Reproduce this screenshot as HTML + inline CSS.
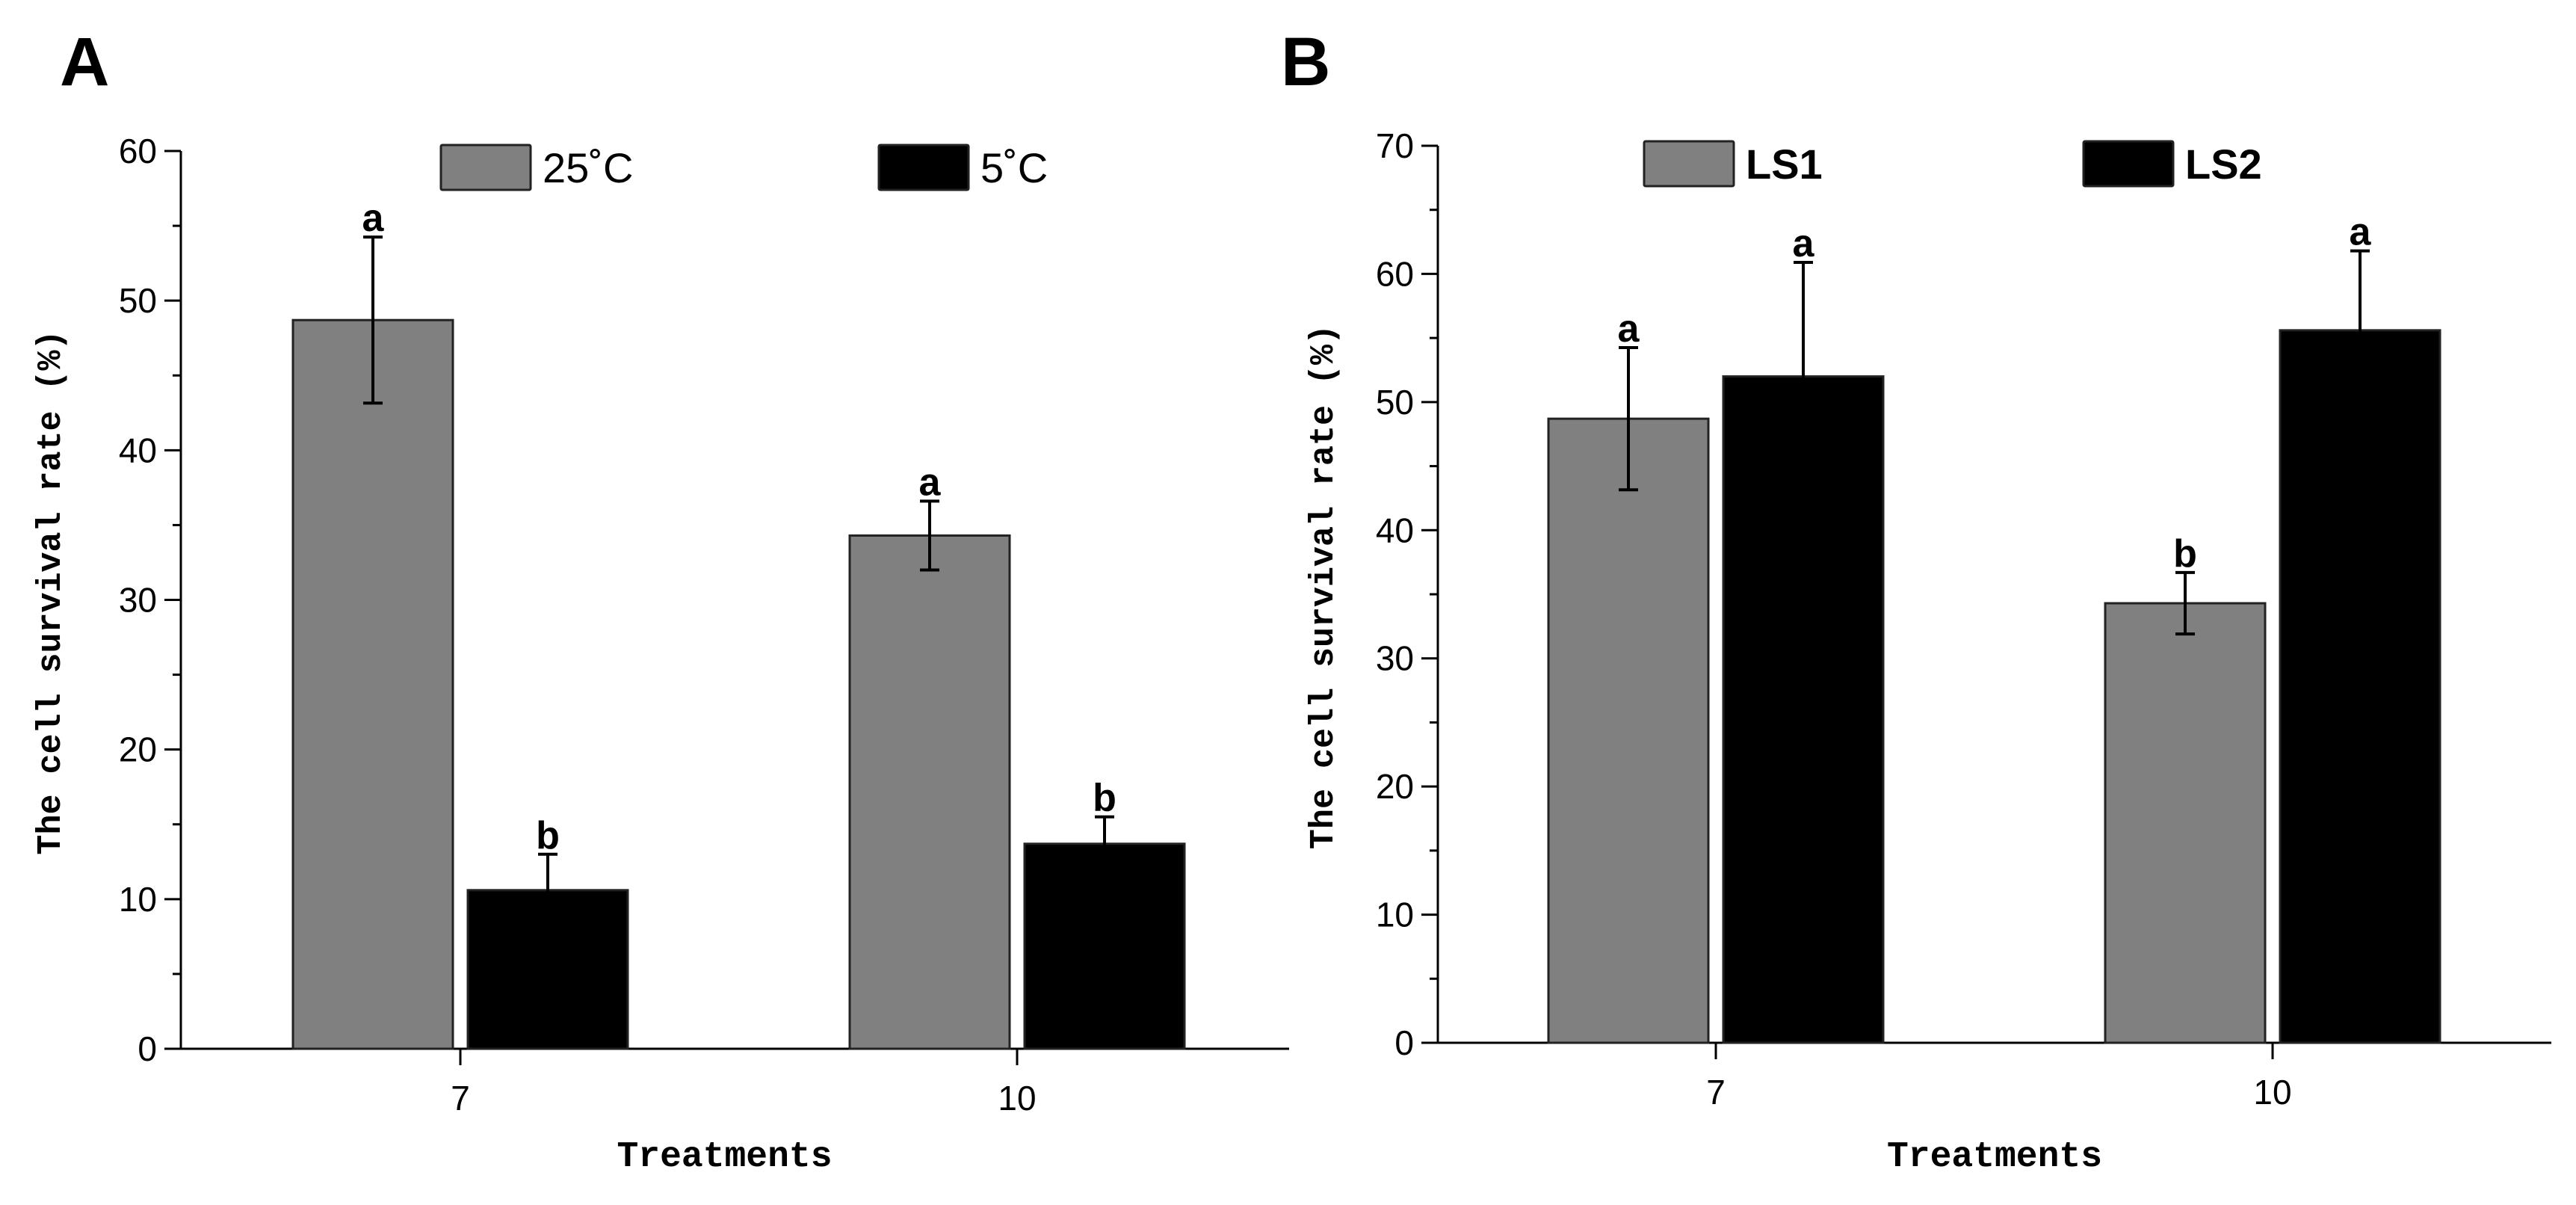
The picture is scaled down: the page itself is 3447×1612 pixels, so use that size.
<!DOCTYPE html>
<html><head><meta charset="utf-8"><style>
html,body{margin:0;padding:0;background:#fff;}
svg{display:block;}
text{font-family:"Liberation Sans",sans-serif;fill:#000;}
.mono{font-family:"Liberation Mono",monospace;font-weight:bold;}
</style></head><body>
<svg id="chart" width="3447" height="1612" viewBox="0 0 3447 1612" xmlns="http://www.w3.org/2000/svg"></svg>
<script>
const categories = ["7", "10"];
const seriesA1 = [48.7, 34.3];
const seriesA1Err = [5.55, 2.3];
const seriesA2 = [10.6, 13.7];
const seriesA2Err = [2.4, 1.8];
const lettersA1 = ["a", "a"];
const lettersA2 = ["b", "b"];
const ticksA = [0, 10, 20, 30, 40, 50, 60];
const seriesB1 = [48.7, 34.3];
const seriesB1Err = [5.55, 2.4];
const seriesB2 = [52.0, 55.6];
const seriesB2Err = [8.9, 6.2];
const lettersB1 = ["a", "b"];
const lettersB2 = ["a", "a"];
const ticksB = [0, 10, 20, 30, 40, 50, 60, 70];
const legendA = ["25˚C", "5˚C"];
const legendB = ["LS1", "LS2"];

const NS = "http://www.w3.org/2000/svg";
const svg = document.getElementById("chart");
function mk(tag, attrs, parent, txt) {
  const e = document.createElementNS(NS, tag);
  for (const k in attrs) e.setAttribute(k, attrs[k]);
  if (txt !== undefined) e.textContent = txt;
  (parent || svg).appendChild(e);
  return e;
}

function panel(cfg) {
  const g = mk("g", {});
  
  
  const yScale = v => cfg.y0 - (v / cfg.max) * (cfg.y0 - cfg.yTop);
  const groupX = i => cfg.groupCenters[i];
  const pl = mk("text", {x: cfg.labelX, y: 114, "font-size": 92, "font-weight": "bold"}, g, cfg.letter);
  
  
  const ya = mk("line", {x1: cfg.x0, y1: cfg.yTop, x2: cfg.x0, y2: cfg.y0, stroke: "#000", "stroke-width": 3}, g);
  
  
  const xa = mk("line", {x1: cfg.x0 - 22, y1: cfg.y0, x2: cfg.x1, y2: cfg.y0, stroke: "#000", "stroke-width": 3}, g);
  
  
  cfg.ticks.forEach((t, i) => {
    const y = yScale(t);
    mk("line", {x1: cfg.x0 - 22, y1: y, x2: cfg.x0, y2: y, stroke: "#000", "stroke-width": 3}, g);
    const tl = mk("text", {x: cfg.x0 - 32, y: y + 16, "font-size": 46, "text-anchor": "end"}, g, String(t));
    
    
    if (i < cfg.ticks.length - 1) {
      const ym = yScale(t + (cfg.ticks[1] - cfg.ticks[0]) / 2);
      mk("line", {x1: cfg.x0 - 11, y1: ym, x2: cfg.x0, y2: ym, stroke: "#000", "stroke-width": 3}, g);
    }
  });
  categories.forEach((c, i) => {
    const x = groupX(i);
    mk("line", {x1: x, y1: cfg.y0, x2: x, y2: cfg.y0 + 22, stroke: "#000", "stroke-width": 3}, g);
    const xl = mk("text", {x: x, y: cfg.y0 + 82, "font-size": 46, "text-anchor": "middle"}, g, c);
    
    
  });
  const bw = 214, gap = 20;
  const series = [
    {v: cfg.s1, e: cfg.e1, l: cfg.l1, fill: "#808080", name: "bar-series1", off: -gap/2 - bw},
    {v: cfg.s2, e: cfg.e2, l: cfg.l2, fill: "#000", name: "bar-series2", off: gap/2}
  ];
  series.forEach(s => {
    s.v.forEach((v, i) => {
      const x = groupX(i) + s.off;
      const r = mk("rect", {x: x, y: yScale(v), width: bw, height: cfg.y0 - yScale(v), fill: s.fill, stroke: "#222", "stroke-width": 3}, g);
      
      
      const cx = x + bw / 2;
      const yh = yScale(v + s.e[i]), yl = yScale(v - s.e[i]);
      const eb = mk("path", {d: `M${cx},${yh}V${yl}M${cx-13},${yh}H${cx+13}M${cx-13},${yl}H${cx+13}`, stroke: "#000", "stroke-width": 4, fill: "none"}, g);
      
      
      const lt = mk("text", {x: cx, y: yh - 8, "font-size": 52, "font-weight": "bold", "text-anchor": "middle"}, g, s.l[i]);
      
      
    });
  });
  cfg.legend.forEach((name, i) => {
    const lx = cfg.legX[i];
    const lr = mk("rect", {x: lx, y: cfg.legY, width: 120, height: 60, fill: i ? "#000" : "#808080", stroke: "#222", "stroke-width": 3, rx: 2}, g);
    
    
    const lt = mk("text", {x: lx + 136, y: cfg.legY + 50, "font-size": 56, "font-weight": cfg.legBold ? "bold" : "normal"}, g, name);
    
    
  });
  const xt = mk("text", {x: (cfg.x0 + cfg.x1) / 2 + cfg.xtOff, y: 1560, "font-size": 48, "text-anchor": "middle", class: "mono"}, g, "Treatments");
  
  
  const ytx = cfg.ytitleX, yty = (cfg.yTop + cfg.y0) / 2 - 10;
  const yt = mk("text", {x: ytx, y: yty, "font-size": 45, "text-anchor": "middle", class: "mono", transform: `rotate(-90 ${ytx} ${yty})`}, g, "The cell survival rate (%)");
  
  
}

panel({name: "panel-a", letter: "A", labelX: 80, x0: 242, x1: 1725, yTop: 202, y0: 1403, max: 60,
  ticks: ticksA, groupCenters: [616, 1361], s1: seriesA1, e1: seriesA1Err, s2: seriesA2, e2: seriesA2Err,
  l1: lettersA1, l2: lettersA2, legend: legendA, legX: [590, 1176], legY: 194, legBold: false, ytitleX: 80, xtOff: -14});
panel({name: "panel-b", letter: "B", labelX: 1714, x0: 1924, x1: 3414, yTop: 195, y0: 1395, max: 70,
  ticks: ticksB, groupCenters: [2296, 3041], s1: seriesB1, e1: seriesB1Err, s2: seriesB2, e2: seriesB2Err,
  l1: lettersB1, l2: lettersB2, legend: legendB, legX: [2200, 2788], legY: 189, legBold: true, ytitleX: 1783, xtOff: 0});
</script>
</body></html>
